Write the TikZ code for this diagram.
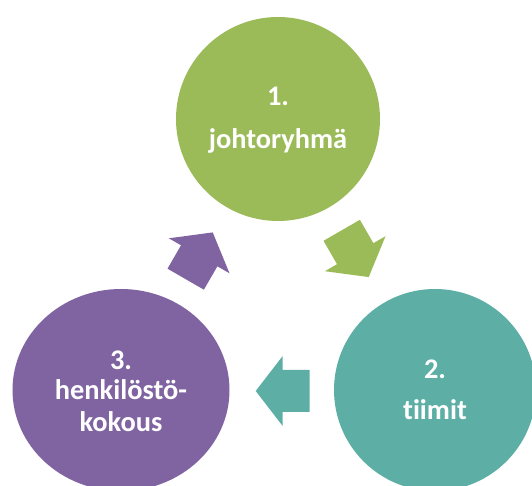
\documentclass[tikz,border=0pt]{standalone}
\usepackage{fontspec}
\usetikzlibrary{shapes.geometric}
\setmainfont{Carlito}[Ligatures={NoCommon}]
\definecolor{cgreen}{HTML}{9BBB59}
\definecolor{cteal}{HTML}{5DAFA5}
\definecolor{cpurple}{HTML}{8064A2}
\tikzset{
  disc/.style={circle, inner sep=0pt, minimum size=#1},
  lbl/.style={anchor=base, text=white, inner sep=0pt, font=\fontsize{28.5}{34}\selectfont\bfseries},
  blockarrow/.pic={\fill (-27,-21) -- (0,-21) -- (0,-35) -- (27,0) -- (0,35) -- (0,21) -- (-27,21) -- cycle;}
}
\begin{document}
\begin{tikzpicture}[x=1bp,y=1bp]
\useasboundingbox (0,0) rectangle (532,486);
\clip (0,0) rectangle (532,486);
% circles
\node[disc=204bp, fill=cgreen] (n1) at (278,367) {};
\node[disc=202bp, fill=cteal] (n2) at (435,96) {};
\node[ellipse, inner sep=0pt, minimum width=217bp, minimum height=202bp, fill=cpurple] (n3) at (121,96) {};
% arrows
\pic[fill=cgreen, rotate=-60] at (355.2,232.3) {blockarrow};
\pic[fill=cteal, rotate=180] at (282.7,95) {blockarrow};
\pic[fill=cpurple, rotate=60] at (199.2,230.2) {blockarrow};
% texts
\node[lbl] (t1a) at (278,380.3) {1.};
\node[lbl] (t1b) at (278,337.7) {johtoryhmä};
\node[lbl] (t2a) at (435,107.7) {2.};
\node[lbl] (t2b) at (435,66) {tiimit};
\node[lbl] (t3a) at (121,116) {3.};
\node[lbl] (t3b) at (121,86) {henkilöstö-};
\node[lbl] (t3c) at (121,54) {kokous};
\end{tikzpicture}
\end{document}
